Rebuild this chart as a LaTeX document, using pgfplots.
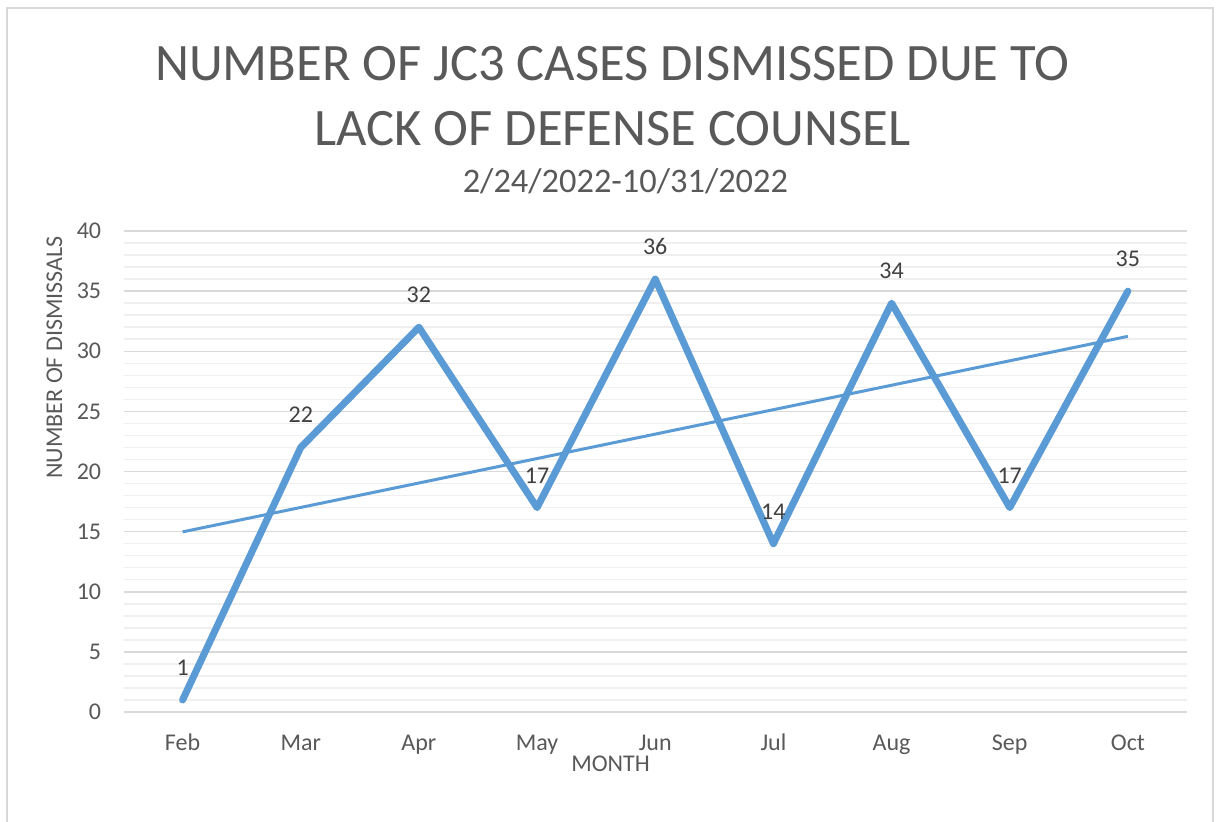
\documentclass[border=0pt]{standalone}
\usepackage{fontspec}
\setmainfont{Carlito}
\usepackage{pgfplots}
\pgfplotsset{compat=1.18}
\definecolor{txt}{HTML}{595959}
\definecolor{lbl}{HTML}{404040}
\definecolor{blue1}{HTML}{5B9BD5}
\definecolor{gmaj}{HTML}{D9D9D9}
\definecolor{gmin}{HTML}{EFEFEF}
\begin{document}
\begin{tikzpicture}
\useasboundingbox (0,0) rectangle (608.5pt,-410.5pt);
\fill[white] (0,0) rectangle (608.5pt,-410.5pt);
\draw[gmaj, line width=1pt] (3.5pt,-430pt) -- (3.5pt,-4pt) -- (606.5pt,-4pt) -- (606.5pt,-430pt);
\node[anchor=base, inner sep=0pt, font=\fontsize{26.3}{30}\selectfont, text=txt] at (306.2pt,-40pt) {NUMBER OF JC3 CASES DISMISSED DUE TO};
\node[anchor=base, inner sep=0pt, font=\fontsize{26.3}{30}\selectfont, text=txt] at (306.2pt,-72.5pt) {LACK OF DEFENSE COUNSEL};
\node[anchor=base, inner sep=0pt, font=\fontsize{17.2}{20}\selectfont, text=txt] at (312.7pt,-96pt) {2/24/2022-10/31/2022};
\begin{axis}[
  at={(61.75pt,-356pt)}, anchor=south west,
  scale only axis, width=531.75pt, height=240.5pt,
  xmin=-0.5, xmax=8.5, ymin=0, ymax=40,
  xtick={0,...,8},
  xticklabels={Feb,Mar,Apr,May,Jun,Jul,Aug,Sep,Oct},
  ytick={0,5,...,40}, minor y tick num=4,
  ymajorgrids, yminorgrids,
  major grid style={gmaj, line width=0.75pt},
  minor grid style={gmin, line width=0.75pt},
  axis line style={draw=none},
  major tick length=0pt, minor tick length=0pt,
  tick label style={font=\fontsize{12}{14}\selectfont, text=txt},
  yticklabel style={inner sep=0pt, anchor=east, xshift=-11pt},
  xticklabel style={anchor=base, inner sep=0pt, yshift=-19pt},
  /pgf/number format/assume math mode=true,
  xlabel={MONTH}, ylabel={NUMBER OF DISMISSALS},
  label style={font=\fontsize{12}{14}\selectfont, text=txt},
  xlabel style={at={(axis description cs:0.458,0)}, anchor=base, inner sep=0pt, yshift=-29.5pt},
  ylabel style={at={(axis description cs:-0.0578,0.737)}, anchor=base, inner sep=0pt, rotate=0},
  clip=false,
]
\addplot[blue1, line width=1.5pt] coordinates {(0,14.98) (8,31.24)};
\addplot[blue1, line width=3.5pt, line join=round, line cap=round,
  nodes near coords,
  every node near coord/.append style={anchor=south, inner sep=0pt, yshift=10.5pt, font=\fontsize{12}{14}\selectfont, text=lbl}]
  coordinates {(0,1) (1,22) (2,32) (3,17) (4,36) (5,14) (6,34) (7,17) (8,35)};
\end{axis}
\end{tikzpicture}
\end{document}
